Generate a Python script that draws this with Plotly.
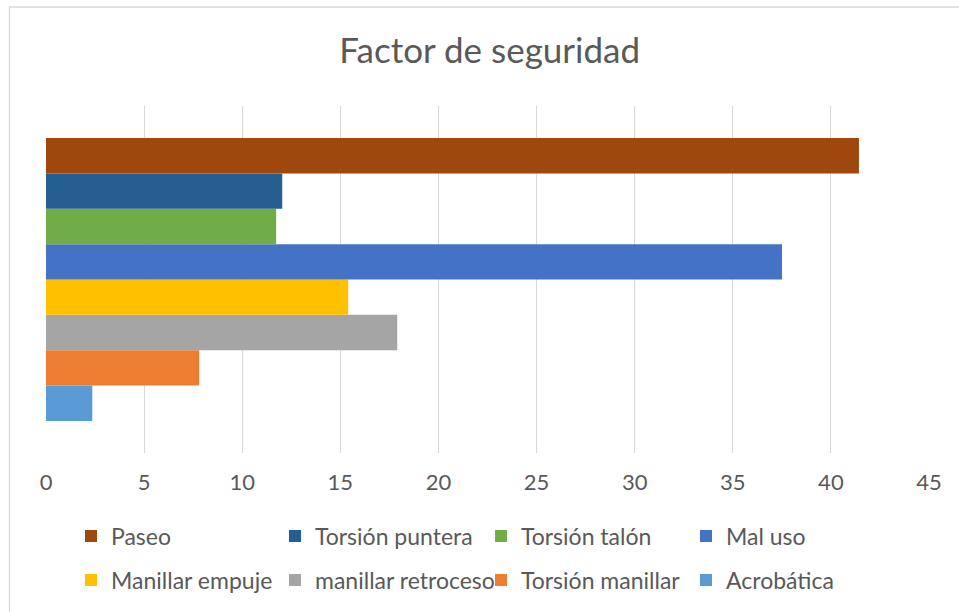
import plotly.graph_objects as go

# Safety factor per load case (single category, one bar per case)
casos = ["Paseo", "Torsión puntera", "Torsión talón", "Mal uso",
         "Manillar empuje", "manillar retroceso", "Torsión manillar", "Acrobática"]
factor = [41.43, 12.04, 11.73, 37.51, 15.40, 17.90, 7.81, 2.36]
colores = ["#9E480E", "#255E91", "#70AD47", "#4472C4",
           "#FFC000", "#A5A5A5", "#ED7D31", "#5B9BD5"]
x_ticks = [0, 5, 10, 15, 20, 25, 30, 35, 40, 45]

W, H = 959, 612
ML, MR, MT, MB = 46, 30, 106, 159
PW, PH = W - ML - MR, H - MT - MB

FONT = "Lato"
GRIS = "#595959"

# Legend grid: 4 columns x 2 rows (pixel positions of text start / row centre)
col_text_px = [108, 312, 518, 723]
row_px = [536, 580]


def px_x(px):
    return (px - ML) / PW


def px_y(py):
    return (H - MB - py) / PH


fig = go.Figure()
legends = {}

# Traces are added bottom-up so the first case ends up at the top of the group
for i in reversed(range(len(casos))):
    key = "legend" if i == 0 else f"legend{i + 1}"
    fig.add_trace(go.Bar(
        y=[""], x=[factor[i]], orientation="h",
        name=casos[i], marker=dict(color=colores[i], line=dict(width=0)),
        legend=key, hoverinfo="x+name",
    ))
    legends[key] = dict(
        x=px_x(col_text_px[i % 4] - 37), y=px_y(row_px[i // 4]),
        xanchor="left", yanchor="middle", orientation="h",
        font=dict(family=FONT, size=23, color=GRIS),
        bgcolor="rgba(0,0,0,0)", borderwidth=0,
        itemclick=False, itemdoubleclick=False,
    )

fig.update_layout(
    width=W, height=H,
    margin=dict(l=ML, r=MR, t=MT, b=MB, pad=0, autoexpand=False),
    paper_bgcolor="white", plot_bgcolor="white",
    barmode="group", bargap=0.185, bargroupgap=0,
    title=dict(text="Factor de seguridad", x=489.7 / W, xanchor="center",
               y=1 - 51 / H, yanchor="middle", yref="container",
               font=dict(family=FONT, size=35, color=GRIS)),
    xaxis=dict(range=[0, 45], tickvals=x_ticks, ticktext=[str(v) for v in x_ticks],
               showgrid=True, gridcolor="#D9D9D9", gridwidth=1.4,
               zeroline=False, showline=False, ticks="",
               ticklabelstandoff=14,
               tickfont=dict(family=FONT, size=22, color=GRIS), fixedrange=True),
    yaxis=dict(showticklabels=False, showgrid=False, zeroline=False,
               showline=False, ticks="", fixedrange=True),
    showlegend=True,
    shapes=[dict(type="rect", xref="paper", yref="paper",
                 x0=px_x(9.5), x1=px_x(W + 20), y0=px_y(H + 20), y1=px_y(7),
                 line=dict(color="#D9D9D9", width=1.3), fillcolor="rgba(0,0,0,0)",
                 layer="below")],
    **legends,
)

fig.write_html("out.html")
